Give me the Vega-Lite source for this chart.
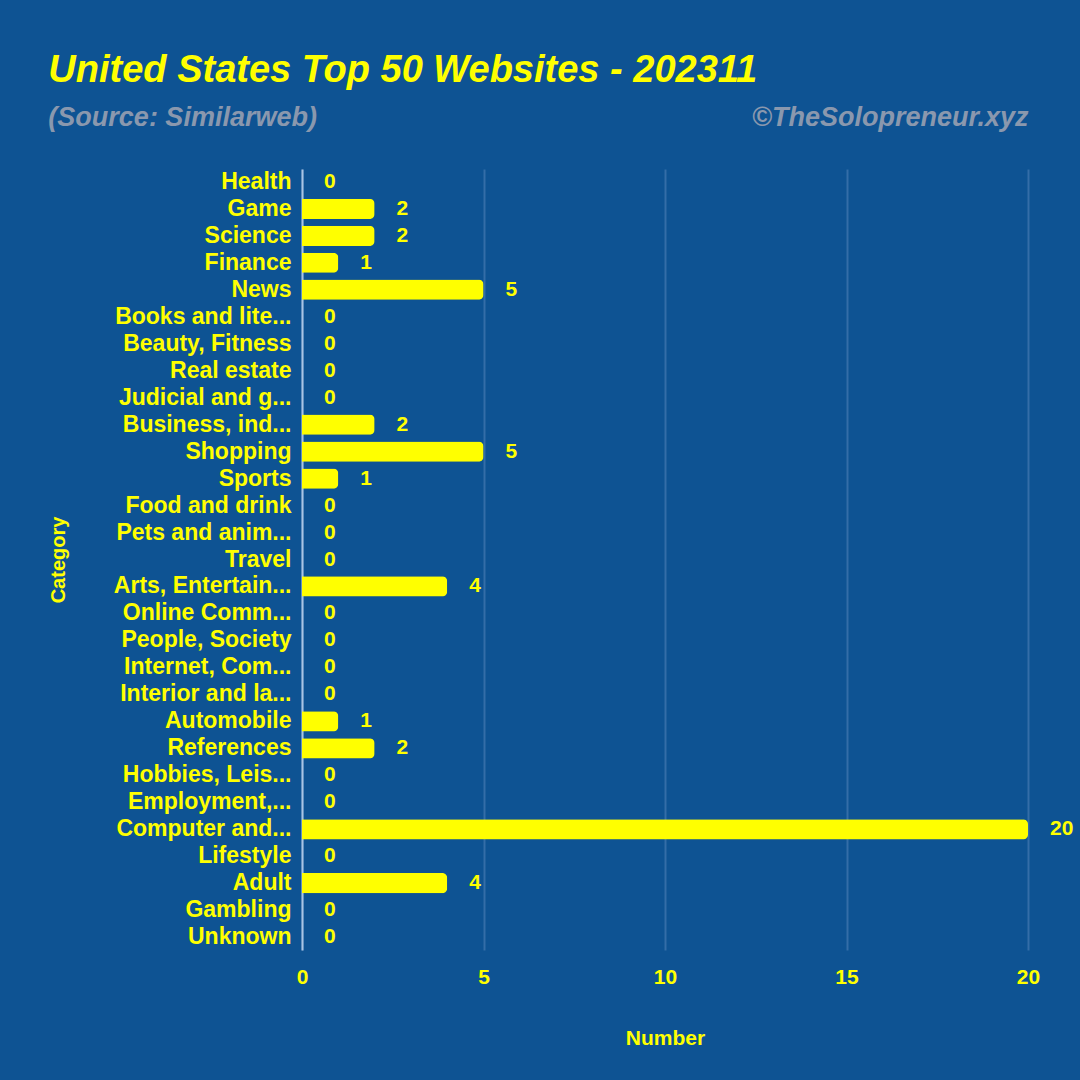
{
  "$schema": "https://vega.github.io/schema/vega-lite/v6.json",
  "width": 726,
  "height": 781,
  "padding": {"left": 48, "top": 52, "right": 10, "bottom": 32},
  "background": "#0E5393",
  "title": {
    "text": "United States Top 50 Websites - 202311",
    "subtitle": "(Source: Similarweb)\u00a0\u00a0\u00a0\u00a0\u00a0\u00a0\u00a0\u00a0\u00a0\u00a0\u00a0\u00a0\u00a0\u00a0\u00a0\u00a0\u00a0\u00a0\u00a0\u00a0\u00a0\u00a0\u00a0\u00a0\u00a0\u00a0\u00a0\u00a0\u00a0\u00a0\u00a0\u00a0\u00a0\u00a0\u00a0\u00a0\u00a0\u00a0\u00a0\u00a0\u00a0\u00a0\u00a0\u00a0\u00a0\u00a0\u00a0\u00a0\u00a0\u00a0\u00a0\u00a0\u00a0\u00a0\u00a0\u00a0\u00a0\u00a0©TheSolopreneur.xyz",
    "anchor": "start",
    "frame": "bounds",
    "font": "Liberation Sans",
    "fontSize": 38,
    "fontStyle": "italic",
    "fontWeight": "bold",
    "color": "#FFFF00",
    "subtitleFont": "Liberation Sans",
    "subtitleFontSize": 27,
    "subtitleFontStyle": "italic",
    "subtitleFontWeight": "bold",
    "subtitleColor": "#8A98AE",
    "subtitlePadding": 15,
    "offset": 38
  },
  "data": {
    "values": [
      {"Category": "Health", "Number": 0},
      {"Category": "Game", "Number": 2},
      {"Category": "Science", "Number": 2},
      {"Category": "Finance", "Number": 1},
      {"Category": "News", "Number": 5},
      {"Category": "Books and lite...", "Number": 0},
      {"Category": "Beauty, Fitness", "Number": 0},
      {"Category": "Real estate", "Number": 0},
      {"Category": "Judicial and g...", "Number": 0},
      {"Category": "Business, ind...", "Number": 2},
      {"Category": "Shopping", "Number": 5},
      {"Category": "Sports", "Number": 1},
      {"Category": "Food and drink", "Number": 0},
      {"Category": "Pets and anim...", "Number": 0},
      {"Category": "Travel", "Number": 0},
      {"Category": "Arts, Entertain...", "Number": 4},
      {"Category": "Online Comm...", "Number": 0},
      {"Category": "People, Society", "Number": 0},
      {"Category": "Internet, Com...", "Number": 0},
      {"Category": "Interior and la...", "Number": 0},
      {"Category": "Automobile", "Number": 1},
      {"Category": "References", "Number": 2},
      {"Category": "Hobbies, Leis...", "Number": 0},
      {"Category": "Employment,...", "Number": 0},
      {"Category": "Computer and...", "Number": 20},
      {"Category": "Lifestyle", "Number": 0},
      {"Category": "Adult", "Number": 4},
      {"Category": "Gambling", "Number": 0},
      {"Category": "Unknown", "Number": 0}
    ]
  },
  "encoding": {
    "y": {
      "field": "Category",
      "type": "nominal",
      "sort": null,
      "scale": {"paddingInner": 0.25, "paddingOuter": 0.1},
      "axis": {
        "title": "Category",
        "titleFont": "Liberation Sans",
        "titleFontSize": 20,
        "titleFontWeight": "bold",
        "titleColor": "#FFFF00",
        "titlePadding": 45,
        "labelFont": "Liberation Sans",
        "labelFontSize": 23,
        "labelFontWeight": "bold",
        "labelColor": "#FFFF00",
        "labelLimit": 220,
        "labelPadding": 11,
        "ticks": false,
        "domainColor": "#A9C4E4",
        "domainWidth": 2,
        "grid": false
      }
    },
    "x": {
      "field": "Number",
      "type": "quantitative",
      "scale": {"domain": [0, 20], "nice": false},
      "axis": {
        "title": "Number",
        "titleFont": "Liberation Sans",
        "titleFontSize": 21,
        "titleFontWeight": "bold",
        "titleColor": "#FFFF00",
        "titlePadding": 40,
        "labelFont": "Liberation Sans",
        "labelFontSize": 21,
        "labelFontWeight": "bold",
        "labelColor": "#FFFF00",
        "labelPadding": 16,
        "labelFlush": false,
        "values": [0, 5, 10, 15, 20],
        "ticks": false,
        "domain": false,
        "grid": true,
        "gridColor": "#4F7FB5",
        "gridWidth": 2,
        "gridOpacity": 0.6
      }
    }
  },
  "layer": [
    {
      "mark": {"type": "bar", "color": "#FFFF00", "cornerRadiusEnd": 5}
    },
    {
      "mark": {
        "type": "text",
        "align": "left",
        "baseline": "middle",
        "dx": 22,
        "font": "Liberation Sans",
        "fontSize": 21,
        "fontWeight": "bold",
        "color": "#FFFF00"
      },
      "encoding": {"text": {"field": "Number", "type": "quantitative"}}
    }
  ],
  "config": {"view": {"stroke": null}}
}
